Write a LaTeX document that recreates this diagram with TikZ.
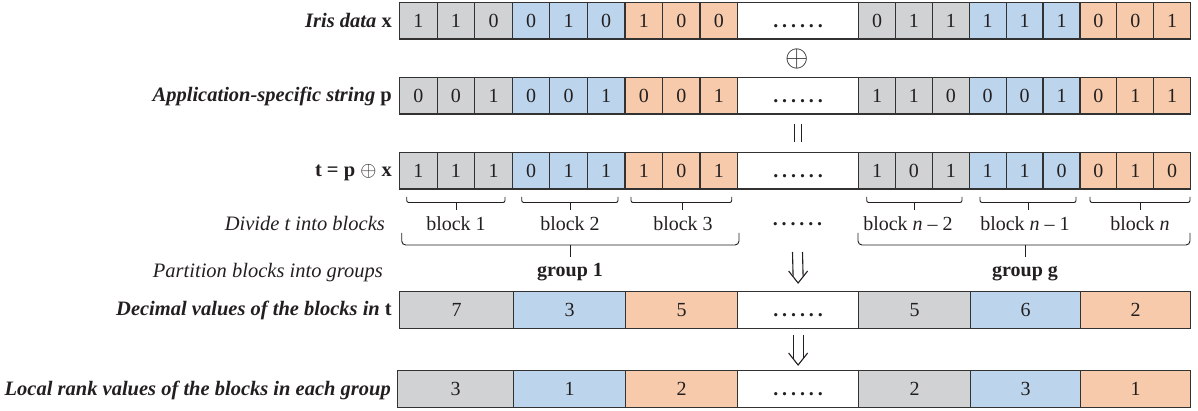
\documentclass[tikz,border=0pt]{standalone}
\usepackage{fontspec}
\setmainfont{Liberation Serif}
\definecolor{cgray}{RGB}{209,210,212}
\definecolor{cblue}{RGB}{189,213,236}
\definecolor{corange}{RGB}{246,202,170}
\definecolor{edge}{RGB}{50,50,50}
\definecolor{ink}{RGB}{35,31,32}
\newcommand\sixdots{\textbf{.\kern3.9pt.\kern3.9pt.\kern3.9pt.\kern3.9pt.\kern3.9pt.}}
\newcommand\bitrow[4]{%
  \foreach \bit [count=\i] in {#3} {%
    \pgfmathtruncatemacro\g{(\i-1)/3}%
    \ifcase\g \def\fc{cgray}\or \def\fc{cblue}\or \def\fc{corange}\fi
    \node[cell, fill=\fc, minimum width=37.56pt] (#1-l\i) at ({399+(\i-1)*37.56}, #2) {\bit};
  }%
  \node[cell, fill=white, minimum width=121pt] (#1-d) at (737,#2) {\vphantom{1}\sixdots};
  \foreach \bit [count=\i] in {#4} {%
    \pgfmathtruncatemacro\g{(\i-1)/3}%
    \ifcase\g \def\fc{cgray}\or \def\fc{cblue}\or \def\fc{corange}\fi
    \node[cell, fill=\fc, minimum width=36.89pt] (#1-r\i) at ({858+(\i-1)*36.89}, #2) {\bit};
  }%
}
\newcommand\smallbrace[3]{%
  \draw[br] (#1,197) -- (#1,202.5) -- (#2,202.5) -- (#2,197);
  \draw[br] (#3,202.5) -- (#3,210);
}
\newcommand\bigbrace[3]{%
  \draw[br, rounded corners=4pt] (#1,233) -- (#1,245) -- (#2,245) -- (#2,233);
  \draw[br] (#3,245) -- (#3,257);
}
\begin{document}
\begin{tikzpicture}[x=1pt,y=-1pt,
  cell/.style={draw=edge, line width=1.2pt, inner sep=0pt, minimum height=36.5pt,
    anchor=north west, font=\fontsize{20}{24}\selectfont, text=ink},
  lab/.style={anchor=base east, inner sep=0pt, text=ink,
    font=\fontsize{20.5}{24}\selectfont\bfseries\itshape},
  ilab/.style={anchor=base east, inner sep=0pt, text=ink,
    font=\fontsize{20.5}{24}\selectfont\itshape},
  blab/.style={anchor=base, inner sep=0pt, text=ink, font=\fontsize{20}{24}\selectfont},
  glab/.style={anchor=base, inner sep=0pt, text=ink, font=\fontsize{20}{24}\selectfont\bfseries},
  br/.style={draw=ink, line width=0.9pt, rounded corners=2pt},
  arw/.style={draw=ink, line width=1.1pt}]
\useasboundingbox (0,0) rectangle (1198,411);

% bit rows
\bitrow{r1}{2}{1,1,0,0,1,0,1,0,0}{0,1,1,1,1,1,0,0,1}
\bitrow{r2}{77}{0,0,1,0,0,1,0,0,1}{1,1,0,0,0,1,0,1,1}
\bitrow{r3}{152}{1,1,1,0,1,1,1,0,1}{1,0,1,1,1,0,0,1,0}

% decimal values row
\foreach \x/\w/\v/\c/\n in {399/114/7/cgray/1, 513/112/3/cblue/2, 625/112/5/corange/3,
  737/121/{\vphantom{1}\sixdots}/white/d, 858/112/5/cgray/5, 970/110/6/cblue/6, 1080/110/2/corange/7}
  \node[cell, fill=\c, minimum width=\w pt] (r4-\n) at (\x,291) {\v};

% local rank row
\foreach \x/\w/\v/\c/\n in {397/116/3/cgray/1, 513/112/1/cblue/2, 625/112/2/corange/3,
  737/121/{\vphantom{1}\sixdots}/white/d, 858/112/2/cgray/5, 970/110/3/cblue/6, 1080/110/1/corange/7}
  \node[cell, fill=\c, minimum width=\w pt] (r5-\n) at (\x,370) {\v};

% row labels
\node[lab] (lx) at (392,27.3) {Iris data \textup{x}};
\node[lab] (lp) at (392,102) {Application-specific string \textup{p}};
\node[lab] (lt) at (392,177) {\textup{t = p \mdseries$\oplus$\bfseries\ x}};
\node[ilab] (ldiv) at (385,231) {Divide t into blocks};
\node[ilab] (lpart) at (383,278) {Partition blocks into groups};
\node[lab] (ldec) at (392,316) {Decimal values of the blocks in \textup{t}};
\node[lab] (lrank) at (391,395) {Local rank values of the blocks in each group};

% operators between rows
\node[inner sep=0pt, text=ink, font=\fontsize{20}{24}\selectfont] (xor) at (797.5,59) {\scalebox{1.45}{$\oplus$}};
\draw[arw, shorten <=9pt, shorten >=10pt] ([xshift=-3.5pt]r2-d.south) -- ([xshift=-3.5pt]r3-d.north);
\draw[arw, shorten <=9pt, shorten >=10pt] ([xshift=3.5pt]r2-d.south) -- ([xshift=3.5pt]r3-d.north);

% block braces and labels
\smallbrace{406.7}{505}{456}
\smallbrace{521.7}{618}{570}
\smallbrace{631}{731.7}{682}
\smallbrace{866.7}{962}{914}
\smallbrace{980}{1076}{1028}
\smallbrace{1090}{1190}{1140}
\node[blab] (b1) at (456,231) {block 1};
\node[blab] (b2) at (570,231) {block 2};
\node[blab] (b3) at (683,231) {block 3};
\node[inner sep=0pt, text=ink, font=\fontsize{20}{24}\selectfont] (bdots) at (797.5,224) {\sixdots};
\node[blab] (bn2) at (908,231) {block \textit{n} -- 2};
\node[blab] (bn1) at (1025,231) {block \textit{n} -- 1};
\node[blab] (bn) at (1140,231) {block \textit{n}};

% group braces and labels
\bigbrace{401.7}{739}{570}
\bigbrace{858}{1190}{1025}
\node[glab] (g1) at (570,277) {group 1};
\node[glab] (gg) at (1025,277) {group g};

% double down arrows
\draw[arw] ([xshift=-5pt,yshift=-28pt]bdots.center) -- ([xshift=-5pt,yshift=14.3pt]r4-d.north);
\draw[arw] ([xshift=5pt,yshift=-28pt]bdots.center) -- ([xshift=5pt,yshift=14.3pt]r4-d.north);
\draw[arw] ([xshift=-9.5pt,yshift=20pt]r4-d.north) -- ([yshift=8pt]r4-d.north) -- ([xshift=9.5pt,yshift=20pt]r4-d.north);

\draw[arw] ([xshift=-5pt,yshift=-6pt]r4-d.south) -- ([xshift=-5pt,yshift=11.3pt]r5-d.north);
\draw[arw] ([xshift=5pt,yshift=-6pt]r4-d.south) -- ([xshift=5pt,yshift=11.3pt]r5-d.north);
\draw[arw] ([xshift=-9.5pt,yshift=17pt]r5-d.north) -- ([yshift=5pt]r5-d.north) -- ([xshift=9.5pt,yshift=17pt]r5-d.north);
\end{tikzpicture}
\end{document}
